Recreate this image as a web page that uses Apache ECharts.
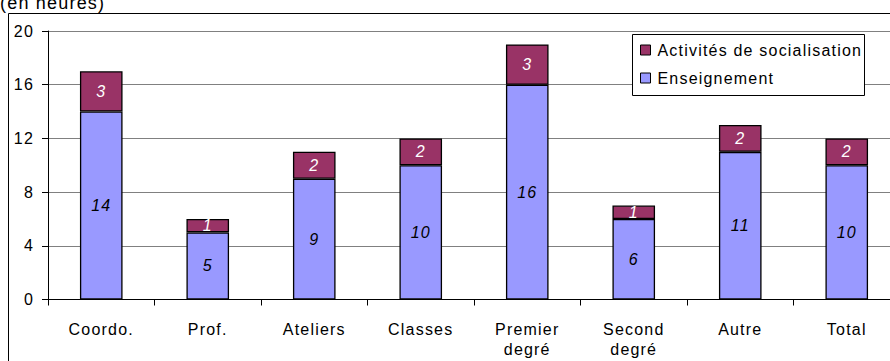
<!DOCTYPE html>
<html>
<head>
<meta charset="utf-8">
<script src="https://cdn.jsdelivr.net/npm/echarts@6/dist/echarts.min.js"></script>
<style>
  html, body { margin: 0; padding: 0; background: #fff; }
  #chart { width: 890px; height: 361px; }
  /* slightly loose tracking, like the office-style chart text */
  #chart text { letter-spacing: 1.2px; }
</style>
</head>
<body>
<div id="chart"></div>
<script>
// Heures par catégorie, empilées : enseignement + activités de socialisation
const categories = ['Coordo.', 'Prof.', 'Ateliers', 'Classes', 'Premier\ndegré', 'Second\ndegré', 'Autre', 'Total'];
const enseignement = [14, 5, 9, 10, 16, 6, 11, 10];
const socialisation = [3, 1, 2, 2, 3, 1, 2, 2];
const yTicks = [0, 4, 8, 12, 16, 20];

const FONT = 'Arial, "Liberation Sans", sans-serif';

const chart = echarts.init(document.getElementById('chart'), null, { renderer: 'svg' });

chart.setOption({
  animation: false,
  backgroundColor: '#ffffff',
  textStyle: { fontFamily: FONT },
  graphic: [
    {
      type: 'rect',
      shape: { x: 8.5, y: 13.5, width: 920, height: 400 },
      style: { fill: 'none', stroke: '#000', lineWidth: 1 },
      z: 0
    },
    {
      // legend frame
      type: 'rect',
      shape: { x: 632.5, y: 34.5, width: 232, height: 61 },
      style: { fill: '#fff', stroke: '#000', lineWidth: 1 },
      z: 5
    },
    {
      type: 'text',
      x: 0,
      y: 12,
      style: { text: '(en heures)', font: '18px ' + FONT, fill: '#000', verticalAlign: 'bottom' }
    }
  ],
  legend: {
    orient: 'vertical',
    left: 640,
    top: 42,
    data: ['Activités de socialisation', 'Enseignement'],
    icon: 'rect',
    itemWidth: 10,
    itemHeight: 10,
    itemGap: 12,
    padding: 0,
    z: 10,
    textStyle: { fontSize: 16, lineHeight: 16, color: '#000', fontFamily: FONT, padding: [0, 0, 0, 2] },
    itemStyle: { borderColor: '#000', borderWidth: 1 }
  },
  grid: {
    left: 48,
    top: 31,
    width: 852,
    height: 268.5,
    outerBoundsMode: 'none',
    containLabel: false
  },
  xAxis: {
    type: 'category',
    data: categories,
    axisLine: { lineStyle: { color: '#000', width: 1 } },
    axisTick: { show: true, length: 6, lineStyle: { color: '#000' } },
    axisLabel: { fontSize: 16, color: '#000', margin: 20, lineHeight: 20, fontFamily: FONT },
    splitLine: { show: false }
  },
  yAxis: {
    type: 'value',
    min: yTicks[0],
    max: yTicks[yTicks.length - 1],
    interval: 4,
    axisLine: { show: true, lineStyle: { color: '#000', width: 1 } },
    axisTick: { show: true, length: 6, lineStyle: { color: '#000' } },
    axisLabel: { fontSize: 16, color: '#000', margin: 14, fontFamily: FONT },
    splitLine: { show: true, lineStyle: { color: '#808080', width: 1 } }
  },
  series: [
    {
      name: 'Enseignement',
      type: 'bar',
      stack: 'h',
      data: enseignement,
      barWidth: '40%',
      itemStyle: { color: '#9999FF', borderColor: '#000', borderWidth: 1.3 },
      label: {
        show: true,
        position: 'inside',
        fontSize: 16,
        fontStyle: 'italic',
        color: '#000',
        fontFamily: FONT
      }
    },
    {
      name: 'Activités de socialisation',
      type: 'bar',
      stack: 'h',
      data: socialisation,
      barWidth: '40%',
      itemStyle: { color: '#993366', borderColor: '#000', borderWidth: 1.3 },
      label: {
        show: true,
        position: 'inside',
        fontSize: 16,
        fontStyle: 'italic',
        color: '#fff',
        fontFamily: FONT
      }
    }
  ]
});
</script>
</body>
</html>
